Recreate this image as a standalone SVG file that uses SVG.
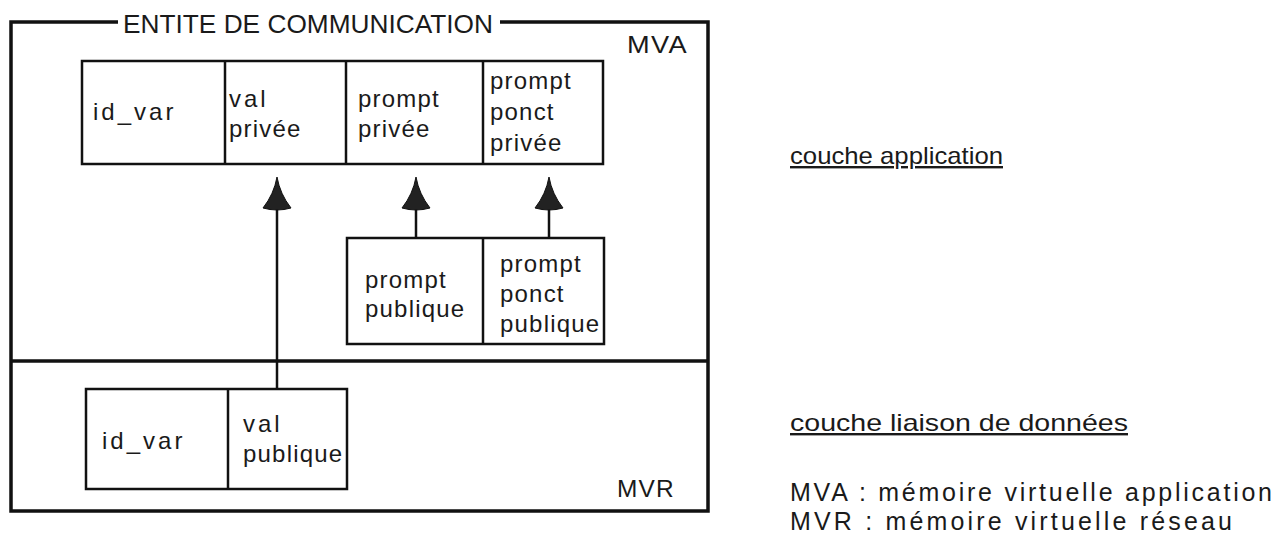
<svg xmlns="http://www.w3.org/2000/svg" width="1284" height="537" viewBox="0 0 1284 537">
<style>
text{font-family:"Liberation Sans",Arial,Helvetica,sans-serif;fill:#1a1a1a}
.t{font-size:24px;letter-spacing:1.2px}
.id{letter-spacing:3px}
.frame{fill:none;stroke:#111;stroke-width:3.5}
.box{fill:none;stroke:#111;stroke-width:2.5}
.ln{stroke:#111;stroke-width:2.5}
.conn{stroke:#111;stroke-width:2.5;fill:none}
.head{fill:#222;stroke:#111;stroke-width:1}
.u{font-size:24px;text-decoration:underline}
.leg{font-size:25px}
</style>
<defs>
<path id="ah" d="M0,0 Q-3,17 -14,31 Q0,35 14,31 Q3,17 0,0 Z"/>
</defs>
<rect width="1284" height="537" fill="#fff"/>
<g id="entite">
<path class="frame" d="M118,22 H11 V511 H708 V22 H500"/>
<text x="123" y="33" font-size="25.5" textLength="370" lengthAdjust="spacingAndGlyphs">ENTITE DE COMMUNICATION</text>
<line class="frame" x1="11" y1="361" x2="708" y2="361" stroke-width="3"/>
<text x="627" y="53" class="t" textLength="61" lengthAdjust="spacingAndGlyphs">MVA</text>
<text x="617" y="497" class="t" textLength="58" lengthAdjust="spacingAndGlyphs">MVR</text>
</g>
<g id="table-mva">
<rect class="box" x="82" y="61" width="521" height="103"/>
<line class="ln" x1="225" y1="61" x2="225" y2="164"/>
<line class="ln" x1="346" y1="61" x2="346" y2="164"/>
<line class="ln" x1="483" y1="61" x2="483" y2="164"/>
<text class="t id" x="93" y="120">id_var</text>
<text class="t id" x="229" y="107">val</text>
<text class="t" x="229" y="137">privée</text>
<text class="t" x="358" y="107">prompt</text>
<text class="t" x="358" y="137">privée</text>
<text class="t" x="490" y="89">prompt</text>
<text class="t" x="490" y="120">ponct</text>
<text class="t" x="490" y="151">privée</text>
</g>
<g id="table-publique">
<rect class="box" x="347" y="238" width="257" height="106"/>
<line class="ln" x1="483" y1="238" x2="483" y2="344"/>
<text class="t" x="365" y="288">prompt</text>
<text class="t" x="365" y="317">publique</text>
<text class="t" x="500" y="272">prompt</text>
<text class="t" x="500" y="302">ponct</text>
<text class="t" x="500" y="332">publique</text>
</g>
<g id="table-mvr">
<rect class="box" x="86" y="389" width="261" height="100"/>
<line class="ln" x1="228" y1="389" x2="228" y2="489"/>
<text class="t id" x="102" y="449">id_var</text>
<text class="t id" x="243" y="432">val</text>
<text class="t" x="243" y="462">publique</text>
</g>
<g id="connectors">
<line class="conn" x1="277" y1="389" x2="277" y2="205"/>
<line class="conn" x1="416" y1="238" x2="416" y2="205"/>
<line class="conn" x1="549" y1="238" x2="549" y2="205"/>
<use href="#ah" class="head" x="277" y="177"/>
<use href="#ah" class="head" x="416" y="177"/>
<use href="#ah" class="head" x="549" y="177"/>
</g>
<g id="legend">
<text class="u" x="790" y="164" textLength="213" lengthAdjust="spacingAndGlyphs">couche application</text>
<text class="u" x="790" y="431" textLength="338" lengthAdjust="spacingAndGlyphs">couche liaison de données</text>
<text class="leg" x="790" y="501" textLength="482" lengthAdjust="spacing">MVA : mémoire virtuelle application</text>
<text class="leg" x="790" y="530" textLength="442" lengthAdjust="spacing">MVR : mémoire virtuelle réseau</text>
</g>
</svg>
